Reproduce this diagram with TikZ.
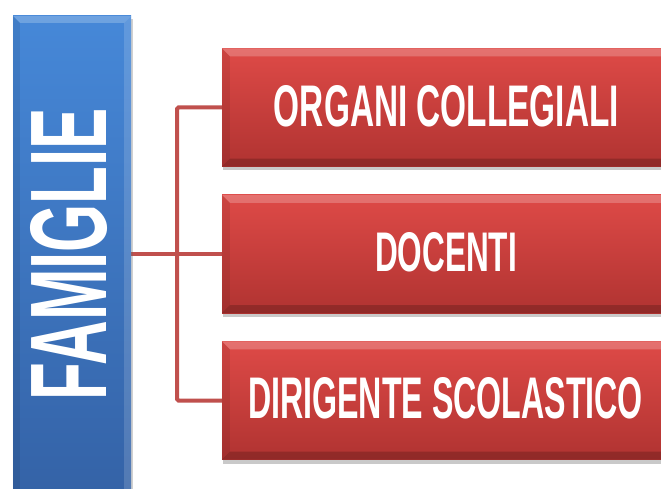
\documentclass[tikz,border=0pt]{standalone}
\usepackage{fontspec}
\setmainfont{Liberation Sans}
\usetikzlibrary{shadows,calc}
\pgfdeclarelayer{bg}
\pgfsetlayers{bg,main}
\definecolor{redtop}{HTML}{DE4A47}
\definecolor{redbot}{HTML}{B03331}
\definecolor{bluetop}{HTML}{4688D8}
\definecolor{bluebot}{HTML}{3462A6}
\definecolor{conncol}{HTML}{C0504D}
\tikzset{
  redbox/.style={rectangle, inner sep=0pt, minimum width=448pt, minimum height=118pt,
    top color=redtop, bottom color=redbot, text=white,
    drop shadow={shadow xshift=1pt, shadow yshift=-4pt, opacity=0.35, fill=black!60}},
  bluebox/.style={rectangle, inner sep=0pt, minimum width=118pt, minimum height=484pt,
    top color=bluetop, bottom color=bluebot, text=white,
    drop shadow={shadow xshift=2pt, shadow yshift=-3pt, opacity=0.3, fill=black!60}},
  conn/.style={draw=conncol, line width=4pt, rounded corners=1.5pt},
  lightbevel/.style={fill=white, fill opacity=0.22},
  darkbevel/.style={fill=black, fill opacity=0.18},
  labeltext/.style={text=white, inner sep=0pt},
}
\newcommand{\bevel}[2]{%
  \fill[lightbevel] (#1.north west) -- (#1.north east) -- ($(#1.north east)+(-#2,-#2)$) -- ($(#1.north west)+(#2,-#2)$) -- cycle;
  \fill[darkbevel] (#1.south west) -- (#1.south east) -- ($(#1.south east)+(-#2,#2)$) -- ($(#1.south west)+(#2,#2)$) -- cycle;
  \fill[black, fill opacity=0.08] (#1.north west) -- ($(#1.north west)+(#2,-#2)$) -- ($(#1.south west)+(#2,#2)$) -- (#1.south west) -- cycle;
  \fill[white, fill opacity=0.15] (#1.north east) -- ($(#1.north east)+(-#2,-#2)$) -- ($(#1.south east)+(-#2,#2)$) -- (#1.south east) -- cycle;
}
\begin{document}
\begin{tikzpicture}[x=1pt,y=1pt]
\useasboundingbox (0,0) rectangle (661,488);
\clip (0,0) rectangle (661,488);
\node[bluebox] (fam) at (72,230) {};
\node[redbox] (b1) at (446,380.5) {};
\node[redbox] (b2) at (446,234) {};
\node[redbox] (b3) at (446,87.5) {};
\coordinate (j) at (177,234);
\begin{pgfonlayer}{bg}
\fill[white] (0,0) rectangle (661,488);
\draw[conn] (b2.west -| fam.east) -- (b2.west);
\draw[conn] (b1.west) -| (j) |- (b3.west);
\end{pgfonlayer}
\bevel{fam}{7}
\bevel{b1}{8}
\bevel{b2}{8}
\bevel{b3}{8}
\node[labeltext, rotate=90] (famtext) at (69,234) {\resizebox{292pt}{76pt}{\bfseries FAMIGLIE}};
\node[labeltext] (t1) at (446.5,381.5) {\resizebox{345pt}{41pt}{\bfseries ORGANI COLLEGIALI}};
\node[labeltext] (t2) at (446,235.5) {\resizebox{142pt}{39pt}{\bfseries DOCENTI}};
\node[labeltext] (t3) at (445.5,89.5) {\resizebox{395pt}{41pt}{\bfseries DIRIGENTE SCOLASTICO}};
\end{tikzpicture}
\end{document}
